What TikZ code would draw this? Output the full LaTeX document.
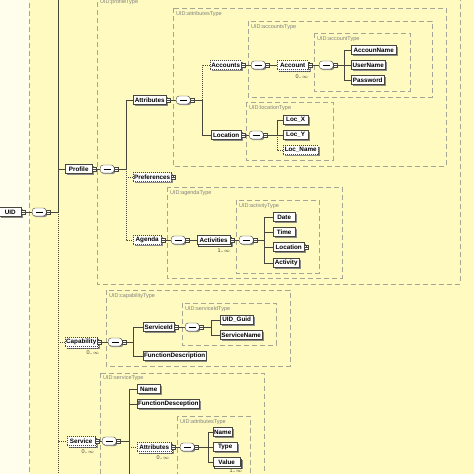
\documentclass[tikz,border=0pt]{standalone}
\usepackage{fontspec}
\setmainfont{Liberation Sans}
\usetikzlibrary{positioning,shadows}
\definecolor{xsdyellow}{RGB}{255,251,192}
\definecolor{xsdpale}{RGB}{255,254,236}
\definecolor{xsdline}{RGB}{70,70,60}
\definecolor{xsdgray}{RGB}{165,165,150}
\newcommand{\seqbar}{\rule{7pt}{0.8pt}}

\begin{document}
\begin{tikzpicture}[x=1pt,y=-1pt,
	elbase/.style={draw=xsdline, fill=white, font=\bfseries\fontsize{6.3}{7}\selectfont, inner xsep=0.8pt, inner ysep=1pt, minimum height=9pt, anchor=west},
	el/.style={elbase, drop shadow={shadow xshift=1.3pt, shadow yshift=-1.3pt, fill=black!45, opacity=1}},
	opt/.style={el, dash pattern=on 1pt off 1pt},
	multi/.style={elbase, drop shadow={shadow xshift=2.6pt, shadow yshift=-2.6pt, fill=black!45, opacity=1}, copy shadow={shadow xshift=1.4pt, shadow yshift=-1.4pt}},
	mopt/.style={multi, dash pattern=on 1pt off 1pt},
	seq/.style={draw=xsdline, fill=white, rounded corners=3pt, minimum width=14pt, minimum height=8pt, inner sep=0pt, anchor=west, drop shadow={shadow xshift=1.2pt, shadow yshift=-1.2pt, fill=black!45, opacity=1}},
	sq/.style={draw=xsdline, fill=white, minimum size=4.5pt, inner sep=0pt,
		path picture={\draw[xsdline, line width=0.4pt] ([xshift=0.9pt]path picture bounding box.west) -- ([xshift=-0.9pt]path picture bounding box.east);}},
	sqp/.style={draw=xsdline, fill=white, minimum size=4.5pt, inner sep=0pt,
		path picture={\draw[xsdline, line width=0.4pt] ([xshift=0.9pt]path picture bounding box.west) -- ([xshift=-0.9pt]path picture bounding box.east);
			\draw[xsdline, line width=0.4pt] ([yshift=-0.9pt]path picture bounding box.north) -- ([yshift=0.9pt]path picture bounding box.south);}},
	occ/.style={font=\fontsize{5.5}{6}\selectfont, inner sep=0.5pt, text=xsdline},
	tlab/.style={font=\fontsize{5.5}{6}\selectfont, text=black!50, anchor=west, inner sep=0pt},
	tbox/.style={draw=xsdgray, dash pattern=on 5pt off 3pt, line width=0.6pt},
	link/.style={draw=xsdline, line width=0.6pt},
	optlink/.style={link, dash pattern=on 1pt off 1pt}]
	\useasboundingbox (0,0) rectangle (474,474);
	\clip (0,0) rectangle (474,474);
	%% background
	\fill[xsdpale] (0,0) rectangle (29,474);
	\fill[xsdyellow] (29,0) rectangle (474,474);
	\draw[tbox] (29,-5) -- (29,480);
	%% type boxes
	\draw[tbox] (97,-6) rectangle (460,284);
	\node[tlab] (profileT) at (100,2) {UID:profileType};
	\draw[tbox] (173,8) rectangle (446,166);
	\node[tlab] (attrT) at (176,14) {UID:attributesType};
	\draw[tbox] (248,21) rectangle (432,97);
	\node[tlab] (accsT) at (251,27) {UID:accountsType};
	\draw[tbox] (314,33) rectangle (410,91);
	\node[tlab] (accT) at (317,39) {UID:accountType};
	\draw[tbox] (246,102) rectangle (333,160);
	\node[tlab] (locT) at (249,108) {UID:locationType};
	\draw[tbox] (167,187) rectangle (342,278);
	\node[tlab] (agendaT) at (170,193) {UID:agendaType};
	\draw[tbox] (236,200) rectangle (319,273);
	\node[tlab] (activT) at (239,206) {UID:activityType};
	\draw[tbox] (106,290) rectangle (290,366);
	\node[tlab] (capabT) at (109,296) {UID:capabilityType};
	\draw[tbox] (182,303) rectangle (276,345);
	\node[tlab] (sidT) at (185,309) {UID:serviceIdType};
	\draw[tbox] (100,373) rectangle (264,480);
	\node[tlab] (serviceT) at (103,378) {UID:serviceType};
	\draw[tbox] (177,416) rectangle (250,480);
	\node[tlab] (sattrT) at (180,422) {UID:attributesType};
	%% UID
	\node[el, minimum width=22] (uid) at (-1,212) {UID};
	\node[sq, right=-0.5pt of uid] (uid-s) {};
	\node[seq] (uid-q) at (32,212) {\seqbar};
	\node[sq, right=-0.5pt of uid-q] (uid-qs) {};
	\coordinate (uid-b) at (58,212);
	\coordinate (uid-top) at (58,-5);
	\coordinate (uid-bot) at (58,480);
	%% profile
	\node[el, minimum width=27] (profile) at (65,169) {Profile};
	\node[sq, right=-0.5pt of profile] (profile-s) {};
	\node[seq] (profile-q) at (100,169) {\seqbar};
	\node[sq, right=-0.5pt of profile-q] (profile-qs) {};
	\coordinate (profile-b) at (126,169);
	%% attributes
	\node[el, minimum width=33] (attr) at (133,100) {Attributes};
	\node[sq, right=-0.5pt of attr] (attr-s) {};
	\node[seq] (attr-q) at (176,100) {\seqbar};
	\node[sq, right=-0.5pt of attr-q] (attr-qs) {};
	\coordinate (attr-b) at (202,100);
	\node[opt, minimum width=31] (accs) at (210,65) {Accounts};
	\node[sq, right=-0.5pt of accs] (accs-s) {};
	\node[seq] (accs-q) at (251,65) {\seqbar};
	\node[sq, right=-0.5pt of accs-q] (accs-qs) {};
	\node[mopt, minimum width=31] (acc) at (277,65) {Account};
	\node[sq, right=-0.5pt of acc] (acc-s) {};
	\node[occ] (acc-o) at (302,77) {0..$\infty$};
	\node[seq] (acc-q) at (319,65) {\seqbar};
	\node[sq, right=-0.5pt of acc-q] (acc-qs) {};
	\coordinate (acc-b) at (344,65);
	\node[el, minimum width=45] (accname) at (351,50) {AccounName};
	\node[el, minimum width=34] (username) at (351,65) {UserName};
	\node[el, minimum width=33] (password) at (351,80) {Password};
	\node[el, minimum width=30] (loc) at (211,135) {Location};
	\node[sq, right=-0.5pt of loc] (loc-s) {};
	\node[seq] (loc-q) at (249,135) {\seqbar};
	\node[sq, right=-0.5pt of loc-q] (loc-qs) {};
	\coordinate (loc-b) at (277,135);
	\node[el, minimum width=25] (locx) at (283,120) {Loc\_X};
	\node[el, minimum width=25] (locy) at (283,135) {Loc\_Y};
	\node[opt, minimum width=35] (locname) at (283,150) {Loc\_Name};
	%% preferences, agenda
	\node[opt, minimum width=38] (pref) at (133,177) {Preferences};
	\node[sqp, right=-0.5pt of pref] (pref-s) {};
	\node[opt, minimum width=28] (agenda) at (133,240) {Agenda};
	\node[sq, right=-0.5pt of agenda] (agenda-s) {};
	\node[seq] (agenda-q) at (171,240) {\seqbar};
	\node[sq, right=-0.5pt of agenda-q] (agenda-qs) {};
	\node[multi, minimum width=33] (activ) at (197,240) {Activities};
	\node[sq, right=-0.5pt of activ] (activ-s) {};
	\node[occ] (activ-o) at (224,251) {1..$\infty$};
	\node[seq] (activ-q) at (239,240) {\seqbar};
	\node[sq, right=-0.5pt of activ-q] (activ-qs) {};
	\coordinate (activ-b) at (264,240);
	\node[el, minimum width=22] (date) at (273,217) {Date};
	\node[el, minimum width=22] (time) at (273,232) {Time};
	\node[el, minimum width=31] (aloc) at (273,247) {Location};
	\node[sqp, right=-0.5pt of aloc] (aloc-s) {};
	\node[el, minimum width=26] (activity) at (273,263) {Activity};
	%% capability
	\node[mopt, minimum width=32] (capab) at (65,342) {Capability};
	\node[sq, right=-0.5pt of capab] (capab-s) {};
	\node[occ] (capab-o) at (93,353) {0..$\infty$};
	\node[seq] (capab-q) at (108,342) {\seqbar};
	\node[sq, right=-0.5pt of capab-q] (capab-qs) {};
	\coordinate (capab-b) at (133,342);
	\node[el, minimum width=31] (sid) at (143,327) {ServiceId};
	\node[sq, right=-0.5pt of sid] (sid-s) {};
	\node[seq] (sid-q) at (185,327) {\seqbar};
	\node[sq, right=-0.5pt of sid-q] (sid-qs) {};
	\coordinate (sid-b) at (211,327);
	\node[el, minimum width=33] (guid) at (220,320) {UID\_Guid};
	\node[el, minimum width=42] (sidname) at (220,335) {ServiceName};
	\node[el, minimum width=60] (cfunc) at (143,356) {FunctionDescription};
	%% service
	\node[mopt, minimum width=28] (service) at (67,441) {Service};
	\node[sq, right=-0.5pt of service] (service-s) {};
	\node[occ] (service-o) at (88,452) {0..$\infty$};
	\node[seq] (service-q) at (102,441) {\seqbar};
	\node[sq, right=-0.5pt of service-q] (service-qs) {};
	\coordinate (service-b) at (129,441);
	\coordinate (service-bot) at (129,480);
	\node[el, minimum width=23] (sname) at (137,389) {Name};
	\node[el, minimum width=60] (sfunc) at (137,404) {FunctionDesception};
	\node[mopt, minimum width=34] (sattr) at (137,447) {Attributes};
	\node[sq, right=-0.5pt of sattr] (sattr-s) {};
	\node[occ] (sattr-o) at (163,458) {0..$\infty$};
	\node[seq] (sattr-q) at (180,447) {\seqbar};
	\node[sq, right=-0.5pt of sattr-q] (sattr-qs) {};
	\coordinate (sattr-b) at (208,447);
	\node[el, minimum width=19] (aname) at (213,432) {Name};
	\node[el, minimum width=24] (atype) at (213,447) {Type};
	\node[multi, minimum width=27] (avalue) at (213,462) {Value};
	\node[occ] (avalue-o) at (236,471) {1..$\infty$};
	%% connectors
	\draw[link] (uid-s) -- (uid-q);
	\draw[link] (uid-qs) -- (uid-b) -- (uid-top);
	\draw[link] (uid-b) |- (profile.west);
	\draw[optlink] (uid-b) -- (uid-bot);
	\draw[optlink] (uid-b) |- (capab.west);
	\draw[optlink] (uid-b) |- (service.west);
	%%
	\draw[link] (profile-s) -- (profile-q);
	\draw[link] (profile-qs) -- (profile-b) |- (attr.west);
	\draw[optlink] (profile-b) |- (pref.west);
	\draw[optlink] (profile-b) |- (agenda.west);
	%%
	\draw[link] (attr-s) -- (attr-q);
	\draw[link] (attr-qs) -- (attr-b) |- (loc.west);
	\draw[optlink] (attr-b) |- (accs.west);
	\draw[link] (accs-s) -- (accs-q);
	\draw[link] (accs-qs) -- (acc);
	\draw[link] (acc-s) -- (acc-q);
	\draw[link] (acc-qs) -- (acc-b);
	\draw[link] (acc-b) |- (accname.west);
	\draw[link] (acc-b) |- (username.west);
	\draw[link] (acc-b) |- (password.west);
	\draw[link] (loc-s) -- (loc-q);
	\draw[link] (loc-qs) -- (loc-b) |- (locx.west);
	\draw[link] (loc-b) |- (locy.west);
	\draw[optlink] (loc-b) |- (locname.west);
	%%
	\draw[link] (agenda-s) -- (agenda-q);
	\draw[link] (agenda-qs) -- (activ);
	\draw[link] (activ-s) -- (activ-q);
	\draw[link] (activ-qs) -- (activ-b);
	\draw[link] (activ-b) |- (date.west);
	\draw[link] (activ-b) |- (time.west);
	\draw[link] (activ-b) |- (aloc.west);
	\draw[link] (activ-b) |- (activity.west);
	%%
	\draw[link] (capab-s) -- (capab-q);
	\draw[link] (capab-qs) -- (capab-b);
	\draw[link] (capab-b) |- (sid.west);
	\draw[link] (capab-b) |- (cfunc.west);
	\draw[link] (sid-s) -- (sid-q);
	\draw[link] (sid-qs) -- (sid-b);
	\draw[link] (sid-b) |- (guid.west);
	\draw[link] (sid-b) |- (sidname.west);
	%%
	\draw[link] (service-s) -- (service-q);
	\draw[link] (service-qs) -- (service-b) -- (service-bot);
	\draw[link] (service-b) |- (sname.west);
	\draw[link] (service-b) |- (sfunc.west);
	\draw[optlink] (service-b) |- (sattr.west);
	\draw[link] (sattr-s) -- (sattr-q);
	\draw[link] (sattr-qs) -- (sattr-b);
	\draw[link] (sattr-b) |- (aname.west);
	\draw[link] (sattr-b) |- (atype.west);
	\draw[link] (sattr-b) |- (avalue.west);
\end{tikzpicture}
\end{document}
